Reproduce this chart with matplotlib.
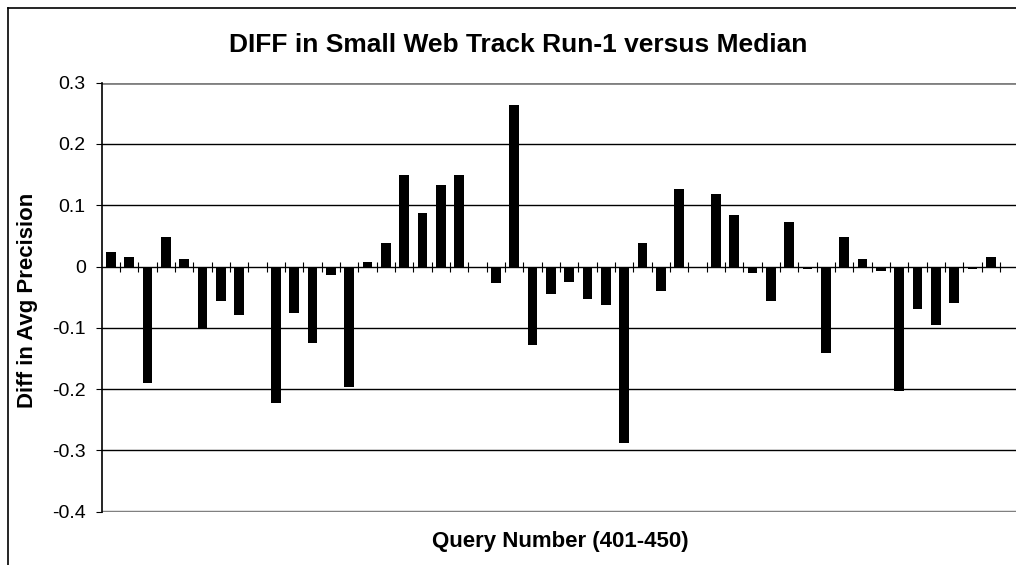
import matplotlib.pyplot as plt
from matplotlib.lines import Line2D
from matplotlib.ticker import FixedLocator

# Số truy vấn 401-450 và độ chênh lệch Avg Precision so với median
queries = list(range(401, 451))
diff = [0.024, 0.015, -0.190, 0.048, 0.012, -0.101, -0.056, -0.079, 0.0, -0.223,
        -0.076, -0.125, -0.014, -0.197, 0.008, 0.038, 0.149, 0.087, 0.133, 0.149,
        0.0, -0.027, 0.263, -0.128, -0.044, -0.025, -0.053, -0.063, -0.288, 0.038,
        -0.040, 0.126, 0.0, 0.119, 0.084, -0.011, -0.056, 0.073, -0.004, -0.141,
        0.048, 0.012, -0.007, -0.203, -0.069, -0.096, -0.060, -0.004, 0.015, 0.0]
y_ticks = [0.3, 0.2, 0.1, 0, -0.1, -0.2, -0.3, -0.4]
y_tick_labels = ['0.3', '0.2', '0.1', '0', '-0.1', '-0.2', '-0.3', '-0.4']

plt.rcParams['font.family'] = ['Liberation Sans', 'DejaVu Sans']

W, H = 1016, 565
fig = plt.figure(figsize=(W / 100, H / 100), dpi=100)

# Khung biểu đồ (chỉ thấy cạnh trái và cạnh trên)
fig.add_artist(Line2D([8 / W, 8 / W], [0, 1 - 8 / H], color='black', lw=1.2))
fig.add_artist(Line2D([8 / W, 1], [1 - 8 / H, 1 - 8 / H], color='black', lw=1.2))

# Vùng vẽ, cạnh phải nằm ngoài ảnh
left, right = 101.7, 1018.3
top, bottom = 82.7, 511.7
ax = fig.add_axes([left / W, 1 - bottom / H, (right - left) / W, (bottom - top) / H])

x = list(range(1, len(queries) + 1))
ax.bar(x, diff, width=0.53, color='black', zorder=3)

ax.set_xlim(0.5, len(queries) + 0.5)
ax.set_ylim(-0.4, 0.3)

# Lưới ngang
for yv in [0.2, 0.1, -0.1, -0.2, -0.3]:
    ax.axhline(yv, color='black', lw=1.0, zorder=1)
ax.axhline(0.3, color='#808080', lw=2.0, zorder=1)
ax.axhline(-0.4, color='#808080', lw=2.5, zorder=1)

# Trục hoành đặt tại 0, vạch chia giữa các cột
for s in ['top', 'right']:
    ax.spines[s].set_visible(False)
ax.spines['bottom'].set_position(('data', 0))
ax.spines['bottom'].set_linewidth(1.0)
ax.spines['bottom'].set_zorder(4)
ax.spines['left'].set_linewidth(1.2)
ax.xaxis.set_major_locator(FixedLocator([i + 0.5 for i in range(1, len(queries))]))
ax.tick_params(axis='x', direction='inout', length=7.5, width=0.8, labelbottom=False)

ax.set_yticks(y_ticks)
ax.set_yticklabels(y_tick_labels, fontsize=14)
ax.tick_params(axis='y', direction='out', length=4.5, width=0.8, pad=7)

# Tiêu đề và nhãn trục
fig.text(518 / W, 1 - 45 / H, 'DIFF in Small Web Track Run-1 versus Median',
         fontsize=19, fontweight='bold', ha='center', va='center')
fig.text(28 / W, 1 - 300 / H, 'Diff in Avg Precision', fontsize=16,
         fontweight='bold', rotation=90, ha='center', va='center')
fig.text(560 / W, 1 - 542 / H, 'Query Number (401-450)', fontsize=16,
         fontweight='bold', ha='center', va='center')

plt.savefig('out.png', dpi=100)
